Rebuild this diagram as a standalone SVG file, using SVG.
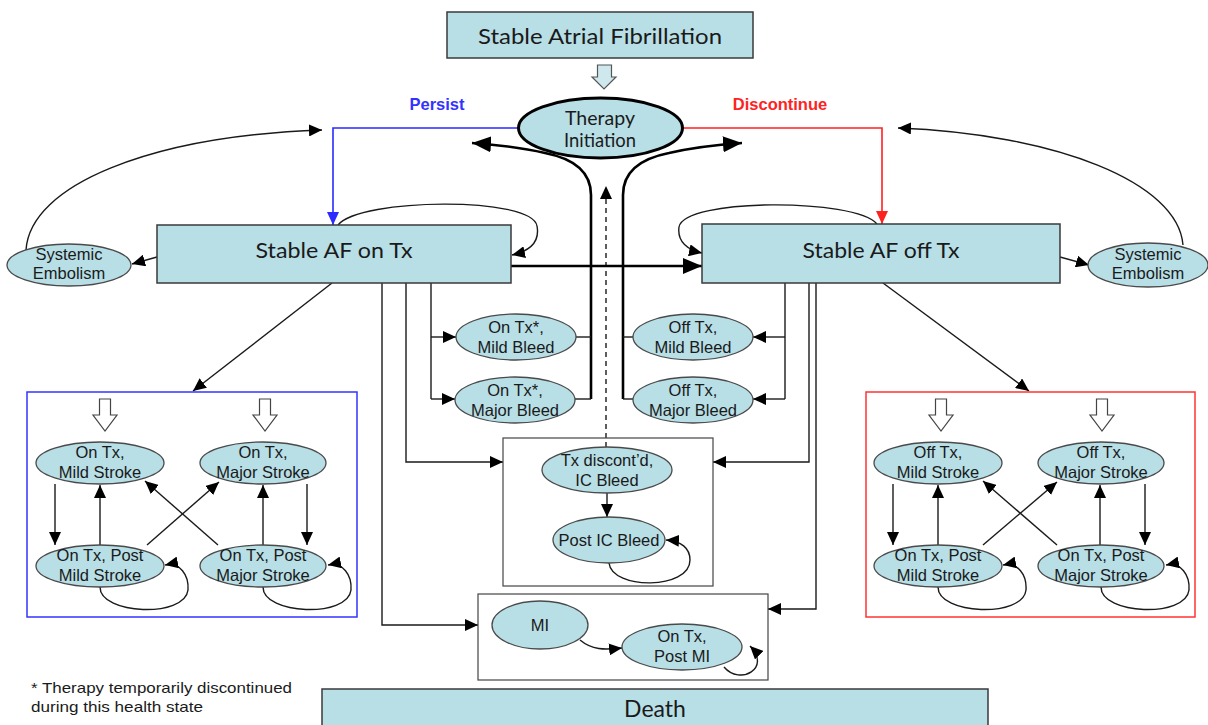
<svg xmlns="http://www.w3.org/2000/svg" xmlns:xlink="http://www.w3.org/1999/xlink" width="1208" height="725" viewBox="0 0 1208 725">
<style>
.box{fill:#b8dee6;stroke:#3a3a3a;stroke-width:1.5}
.ell{fill:#b8dee6;stroke:#4a4a4a;stroke-width:1.3}
.t{font-family:"Liberation Sans",Arial,sans-serif;font-size:16.5px;fill:#1a1a1a;text-anchor:middle}
.c{font-family:Lato,"Liberation Sans",sans-serif;fill:#1a1a1a;text-anchor:middle}
.ln{fill:none;stroke:#1a1a1a;stroke-width:1.4}
.lnb{fill:none;stroke:#000;stroke-width:2.6}
.frame{fill:none;stroke:#444;stroke-width:1.2}
.hol{fill:#fff;stroke:#444;stroke-width:1.2}
</style>
<defs>
<marker id="ah" markerUnits="userSpaceOnUse" markerWidth="14" markerHeight="12" refX="13" refY="6" orient="auto"><path d="M0,0 L13,6 L0,12 z" fill="#000"/></marker>
<marker id="ahb" markerUnits="userSpaceOnUse" markerWidth="20" markerHeight="16" refX="19" refY="8" orient="auto"><path d="M0,0 L19,8 L0,16 z" fill="#000"/></marker>
<marker id="ahblue" markerUnits="userSpaceOnUse" markerWidth="14" markerHeight="12" refX="13" refY="6" orient="auto"><path d="M0,0 L13,6 L0,12 z" fill="#2b2bff"/></marker>
<marker id="ahred" markerUnits="userSpaceOnUse" markerWidth="14" markerHeight="12" refX="13" refY="6" orient="auto"><path d="M0,0 L13,6 L0,12 z" fill="#ff2020"/></marker>
<path id="hol" d="M-5.5,0 H5.5 V16 H12 L0,32 L-12,16 H-5.5 Z"/>
</defs>

<g id="connectors">
  <path d="M597.5,65 H611.5 V77 H616 L604,89 L592,77 H597.5 Z" fill="#cfe8ee" stroke="#555" stroke-width="1.2"/>
  <path d="M518,128 H333 V225" fill="none" stroke="#2b2bff" stroke-width="1.6" marker-end="url(#ahblue)"/>
  <path d="M683,128 H882 V224" fill="none" stroke="#ff2020" stroke-width="1.6" marker-end="url(#ahred)"/>
  <path class="lnb" d="M591,399 V195 Q591,162 545,153 Q515,146 472,143" marker-end="url(#ahb)"/>
  <path class="lnb" d="M623,399 V195 Q623,162 669,153 Q699,146 742,143" marker-end="url(#ahb)"/>
  <path d="M606,447 V186" fill="none" stroke="#1a1a1a" stroke-width="1.4" stroke-dasharray="5,4" marker-end="url(#ah)"/>
  <path class="ln" d="M338,225 C360,198 532,196 537,226 C540,242 530,251 512,255" marker-end="url(#ah)"/>
  <path class="ln" d="M877,224 C855,198 684,198 679,227 C677,242 688,250 702,253" marker-end="url(#ah)"/>
  <path class="lnb" d="M511,266 H702" marker-end="url(#ahb)"/>
  <path class="ln" d="M157,257 L132,264" marker-end="url(#ah)"/>
  <path class="ln" d="M26,250 C30,185 150,136 322,130" marker-end="url(#ah)"/>
  <path class="ln" d="M1060,257 L1089,265" marker-end="url(#ah)"/>
  <path class="ln" d="M1183,245 C1178,182 1055,134 898,128" marker-end="url(#ah)"/>
  <path class="ln" d="M332,283 L193,391" marker-end="url(#ah)"/>
  <path class="ln" d="M883,283 L1029,391" marker-end="url(#ah)"/>
  <path class="ln" d="M431,283 V399"/>
  <path class="ln" d="M431,337 H456" marker-end="url(#ah)"/>
  <path class="ln" d="M431,399 H455" marker-end="url(#ah)"/>
  <path class="ln" d="M576,337 H591"/>
  <path class="ln" d="M575,399 H591"/>
  <path class="ln" d="M406,283 V462 H503" marker-end="url(#ah)"/>
  <path class="ln" d="M382,283 V625 H478" marker-end="url(#ah)"/>
  <path class="ln" d="M785,283 V399"/>
  <path class="ln" d="M785,337 H753" marker-end="url(#ah)"/>
  <path class="ln" d="M785,399 H753" marker-end="url(#ah)"/>
  <path class="ln" d="M633,337 H623"/>
  <path class="ln" d="M633,399 H623"/>
  <path class="ln" d="M809,283 V462 H713" marker-end="url(#ah)"/>
  <path class="ln" d="M816,283 V609 H768" marker-end="url(#ah)"/>
  <path class="ln" d="M607,493 V517" marker-end="url(#ah)"/>
  <path class="ln" d="M609,563 C612,590 690,590 690,560 C690,548 681,541 666,540" marker-end="url(#ah)"/>
  <path class="ln" d="M580,640 C592,650 604,650 622,648" marker-end="url(#ah)"/>
  <path class="ln" d="M724,667 C740,686 772,668 750,646" marker-end="url(#ah)"/>
  <use xlink:href="#hol" x="105" y="399" class="hol"/>
  <use xlink:href="#hol" x="265" y="399" class="hol"/>
  <path class="ln" d="M55,484 V545" marker-end="url(#ah)"/>
  <path class="ln" d="M100,545 V485" marker-end="url(#ah)"/>
  <path class="ln" d="M147,545 L219,482" marker-end="url(#ah)"/>
  <path class="ln" d="M218,545 L145,481" marker-end="url(#ah)"/>
  <path class="ln" d="M263,545 V485" marker-end="url(#ah)"/>
  <path class="ln" d="M307,484 V545" marker-end="url(#ah)"/>
  <path class="ln" d="M100,587 C100,615 185,618 188,590 C189,575 180,562 165,565" marker-end="url(#ah)"/>
  <path class="ln" d="M263,587 C263,615 348,618 351,590 C352,575 343,562 328,565" marker-end="url(#ah)"/>
  <use xlink:href="#hol" x="941" y="399" class="hol"/>
  <use xlink:href="#hol" x="1102" y="399" class="hol"/>
  <path class="ln" d="M893,484 V545" marker-end="url(#ah)"/>
  <path class="ln" d="M938,545 V485" marker-end="url(#ah)"/>
  <path class="ln" d="M983,545 L1057,482" marker-end="url(#ah)"/>
  <path class="ln" d="M1057,545 L983,481" marker-end="url(#ah)"/>
  <path class="ln" d="M1100,545 V485" marker-end="url(#ah)"/>
  <path class="ln" d="M1145,484 V545" marker-end="url(#ah)"/>
  <path class="ln" d="M938,587 C938,615 1023,618 1026,590 C1027,575 1018,562 1003,565" marker-end="url(#ah)"/>
  <path class="ln" d="M1101,587 C1101,615 1186,618 1189,590 C1190,575 1181,562 1166,565" marker-end="url(#ah)"/>
</g>

<g id="frames">
  <rect x="27" y="392" width="330" height="225" fill="none" stroke="#3333ff" stroke-width="1.5"/>
  <rect x="866" y="392" width="329" height="225" fill="none" stroke="#ff3333" stroke-width="1.5"/>
  <rect class="frame" x="503" y="438" width="210" height="148"/>
  <rect class="frame" x="478" y="594" width="290" height="86"/>
</g>

<g id="stable-af">
  <rect class="box" x="447" y="12" width="306" height="46"/>
  <text class="c" x="600" y="44" font-size="22" textLength="244" lengthAdjust="spacingAndGlyphs">Stable Atrial Fibrillation</text>
</g>
<g id="therapy-initiation">
  <ellipse cx="600.5" cy="128" rx="82" ry="30" fill="#b8dee6" stroke="#000" stroke-width="3"/>
  <text class="c" x="600" y="125" font-size="19" textLength="70" lengthAdjust="spacingAndGlyphs">Therapy</text>
  <text class="c" x="600" y="147" font-size="19" textLength="72" lengthAdjust="spacingAndGlyphs">Initiation</text>
</g>
<g id="labels">
  <text x="437" y="110" font-family="Liberation Sans, Arial, sans-serif" font-weight="bold" font-size="16.5" fill="#3333ff" text-anchor="middle">Persist</text>
  <text x="780" y="110" font-family="Liberation Sans, Arial, sans-serif" font-weight="bold" font-size="16.5" fill="#ff2222" text-anchor="middle">Discontinue</text>
</g>
<g id="on-tx">
  <rect class="box" x="157" y="225" width="354" height="58"/>
  <text class="c" x="334" y="258" font-size="22" textLength="157" lengthAdjust="spacingAndGlyphs">Stable AF on Tx</text>
</g>
<g id="off-tx">
  <rect class="box" x="702" y="224" width="358" height="59"/>
  <text class="c" x="881" y="258" font-size="22" textLength="157" lengthAdjust="spacingAndGlyphs">Stable AF off Tx</text>
</g>
<g id="se-left">
  <ellipse class="ell" cx="69" cy="265" rx="62" ry="21"/>
  <text class="t" x="69" y="260">Systemic</text>
  <text class="t" x="69" y="279">Embolism</text>
</g>
<g id="se-right">
  <ellipse class="ell" cx="1148" cy="265" rx="60" ry="22"/>
  <text class="t" x="1148" y="260">Systemic</text>
  <text class="t" x="1148" y="279">Embolism</text>
</g>
<g id="on-mild-bleed">
  <ellipse class="ell" cx="516" cy="337" rx="60" ry="23"/>
  <text class="t" x="516" y="333">On Tx*,</text>
  <text class="t" x="516" y="353">Mild Bleed</text>
</g>
<g id="on-major-bleed">
  <ellipse class="ell" cx="515" cy="400" rx="60" ry="23"/>
  <text class="t" x="515" y="396">On Tx*,</text>
  <text class="t" x="515" y="416">Major Bleed</text>
</g>
<g id="off-mild-bleed">
  <ellipse class="ell" cx="693" cy="337" rx="60" ry="23"/>
  <text class="t" x="693" y="333">Off Tx,</text>
  <text class="t" x="693" y="353">Mild Bleed</text>
</g>
<g id="off-major-bleed">
  <ellipse class="ell" cx="693" cy="400" rx="60" ry="23"/>
  <text class="t" x="693" y="396">Off Tx,</text>
  <text class="t" x="693" y="416">Major Bleed</text>
</g>
<g id="ic-bleed">
  <ellipse class="ell" cx="607" cy="470" rx="65" ry="23"/>
  <text class="t" x="607" y="466">Tx discont’d,</text>
  <text class="t" x="607" y="486">IC Bleed</text>
</g>
<g id="post-ic-bleed">
  <ellipse class="ell" cx="609" cy="540" rx="56" ry="23"/>
  <text class="t" x="609" y="546">Post IC Bleed</text>
</g>
<g id="mi">
  <ellipse class="ell" cx="540" cy="625" rx="48" ry="24"/>
  <text class="t" x="540" y="631" font-size="17">MI</text>
</g>
<g id="post-mi">
  <ellipse class="ell" cx="682" cy="647" rx="60" ry="23"/>
  <text class="t" x="682" y="642" font-size="17">On Tx,</text>
  <text class="t" x="682" y="662" font-size="17">Post MI</text>
</g>
<g id="on-mild-stroke">
  <ellipse class="ell" cx="100" cy="463" rx="64" ry="21"/>
  <text class="t" x="100" y="458">On Tx,</text>
  <text class="t" x="100" y="478">Mild Stroke</text>
</g>
<g id="on-major-stroke">
  <ellipse class="ell" cx="263" cy="463" rx="63" ry="21"/>
  <text class="t" x="263" y="458">On Tx,</text>
  <text class="t" x="263" y="478">Major Stroke</text>
</g>
<g id="on-post-mild-stroke">
  <ellipse class="ell" cx="100" cy="566" rx="64" ry="21"/>
  <text class="t" x="100" y="561">On Tx, Post</text>
  <text class="t" x="100" y="581">Mild Stroke</text>
</g>
<g id="on-post-major-stroke">
  <ellipse class="ell" cx="263" cy="566" rx="63" ry="21"/>
  <text class="t" x="263" y="561">On Tx, Post</text>
  <text class="t" x="263" y="581">Major Stroke</text>
</g>
<g id="off-mild-stroke">
  <ellipse class="ell" cx="938" cy="463" rx="64" ry="21"/>
  <text class="t" x="938" y="458">Off Tx,</text>
  <text class="t" x="938" y="478">Mild Stroke</text>
</g>
<g id="off-major-stroke">
  <ellipse class="ell" cx="1101" cy="463" rx="63" ry="21"/>
  <text class="t" x="1101" y="458">Off Tx,</text>
  <text class="t" x="1101" y="478">Major Stroke</text>
</g>
<g id="off-post-mild-stroke">
  <ellipse class="ell" cx="938" cy="566" rx="64" ry="21"/>
  <text class="t" x="938" y="561">On Tx, Post</text>
  <text class="t" x="938" y="581">Mild Stroke</text>
</g>
<g id="off-post-major-stroke">
  <ellipse class="ell" cx="1101" cy="566" rx="63" ry="21"/>
  <text class="t" x="1101" y="561">On Tx, Post</text>
  <text class="t" x="1101" y="581">Major Stroke</text>
</g>
<g id="death">
  <rect class="box" x="322" y="689" width="666" height="50"/>
  <text class="c" x="655" y="717" font-size="23">Death</text>
</g>
<g id="footnote">
  <text x="31" y="693" font-family="Liberation Sans, Arial, sans-serif" font-size="15" fill="#1a1a1a" textLength="261" lengthAdjust="spacingAndGlyphs">* Therapy temporarily discontinued</text>
  <text x="31" y="712" font-family="Liberation Sans, Arial, sans-serif" font-size="15" fill="#1a1a1a" textLength="172" lengthAdjust="spacingAndGlyphs">during this health state</text>
</g>
</svg>
